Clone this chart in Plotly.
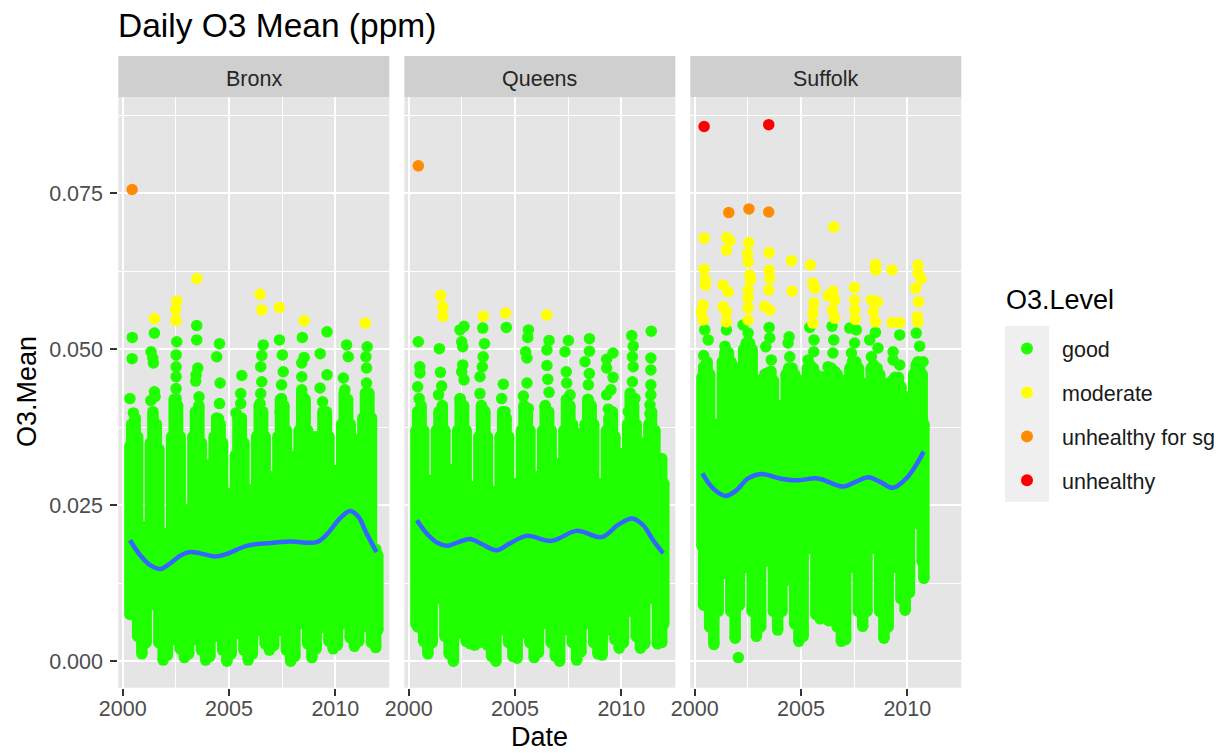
import plotly.graph_objects as go

W, H = 1229, 753
FONT = "Liberation Sans"
TICK = "#4D4D4D"
GREEN, YELLOW, ORANGE, RED, BLUE = "#20FF00", "#FFFF00", "#FF8C00", "#FF0000", "#3366FF"
panels = ["Bronx", "Queens", "Suffolk"]
levels = ["good", "moderate", "unhealthy for sg", "unhealthy"]
level_colors = [GREEN, YELLOW, ORANGE, RED]

# Sampled dates inside each year, and the last date of each monitor
year_offsets = [0.10, 0.30, 0.42, 0.58, 0.70, 0.90]
years = list(range(2000, 2012))
start_offset = 0.34
last_date = {"Bronx": 2012.00, "Queens": 2012.00, "Suffolk": 2010.78}

# Upper / lower edge of the dense cloud (one row per year)
bronx_hi = [None, .0345, .038, .039, .036, .0216,
            .0216, .035, .040, .038, .034, .0205,
            .0205, .036, .042, .041, .036, .0243,
            .0243, .036, .040, .041, .035, .0315,
            .0315, .036, .039, .038, .035, .0269,
            .0269, .033, .039, .039, .035, .0275,
            .0275, .036, .041, .040, .036, .0296,
            .0296, .036, .042, .041, .037, .0328,
            .0328, .037, .043, .042, .037, .036,
            .036, .036, .040, .040, .036, .0306,
            .0306, .038, .043, .042, .038, .0355,
            .0355, .039, .043, .043, .039, .018, .017]
bronx_lo = [None, .0075, .0075, .0080, .0040, .0012,
            .0030, .0090, .0095, .0090, .0030, .0002,
            .0010, .0040, .0035, .0035, .0020, .0006,
            .0012, .0040, .0035, .0035, .0018, .0002,
            .0008, .0040, .0040, .0040, .0018, .0000,
            .0012, .0045, .0045, .0045, .0018, .0002,
            .0012, .0050, .0050, .0050, .0028, .0018,
            .0025, .0050, .0050, .0048, .0018, .0000,
            .0008, .0060, .0065, .0065, .0028, .0006,
            .0020, .0055, .0055, .0055, .0032, .0020,
            .0026, .0060, .0065, .0065, .0038, .0024,
            .0032, .0055, .0060, .0055, .0030, .0022, .0050]
queens_hi = [None, .037, .040, .041, .037, .029,
             .029, .037, .040, .041, .037, .0307,
             .0307, .037, .042, .041, .037, .028,
             .028, .036, .041, .040, .036, .0272,
             .0272, .036, .040, .039, .036, .0285,
             .0285, .037, .041, .040, .037, .0296,
             .0296, .037, .041, .040, .037, .0317,
             .0317, .037, .042, .041, .038, .0365,
             .0365, .038, .042, .041, .038, .0285,
             .0285, .037, .039, .040, .036, .0333,
             .0333, .038, .043, .041, .038, .035,
             .035, .038, .040, .037, .029, .0325, .0285]
queens_lo = [None, .0060, .0055, .0055, .0032, .0012,
             .0030, .0100, .0115, .0110, .0040, .0012,
             .0000, .0045, .0055, .0055, .0032, .0028,
             .0026, .0030, .0035, .0035, .0026, .0008,
             .0000, .0050, .0065, .0065, .0030, .0008,
             .0005, .0045, .0055, .0055, .0030, .0006,
             .0014, .0060, .0075, .0075, .0030, .0008,
             .0000, .0050, .0065, .0065, .0030, .0002,
             .0015, .0060, .0075, .0075, .0030, .0012,
             .0010, .0050, .0065, .0065, .0035, .0021,
             .0030, .0080, .0097, .0097, .0040, .0021,
             .0028, .0100, .0135, .0120, .0028, .0030, .0060]
suffolk_hi = [None, .0455, .047, .048, .046, .038,
              .038, .048, .0495, .0495, .048, .047,
              .047, .050, .051, .051, .050, .045,
              .045, .046, .0462, .0465, .045, .041,
              .041, .046, .047, .047, .046, .045,
              .045, .047, .0475, .047, .046, .0456,
              .0456, .046, .047, .0465, .046, .045,
              .045, .047, .048, .048, .047, .0445,
              .0445, .047, .0475, .047, .046, .0445,
              .0445, .045, .0455, .0455, .044, .0424,
              .0424, .046, .0475, .0475, .046, .038]
suffolk_lo = [None, .0185, .0090, .0120, .0055, .0027,
              .0080, .0140, .0150, .0150, .0080, .0037,
              .0090, .0150, .0165, .0160, .0080, .0040,
              .0055, .0160, .0180, .0170, .0080, .0050,
              .0080, .0130, .0150, .0148, .0060, .0032,
              .0040, .0180, .0200, .0200, .0075, .0068,
              .0090, .0065, .0080, .0120, .0055, .0032,
              .0035, .0150, .0165, .0165, .0080, .0056,
              .0080, .0180, .0200, .0200, .0080, .0037,
              .0055, .0150, .0165, .0150, .0100, .0082,
              .0110, .0220, .0235, .0235, .0160, .0133]

# Separate readings above (or below) the dense cloud
bronx_good_x = [2000.45, 2000.44, 2000.34, 2000.50, 2001.49, 2001.33, 2001.41, 2001.44, 2001.49, 2001.52, 2001.32, 2001.44,
                2002.54, 2002.51, 2002.51, 2002.51, 2002.51, 2002.51, 2002.46, 2003.48, 2003.48, 2003.53, 2003.45, 2003.43,
                2003.59, 2003.56, 2004.55, 2004.42, 2004.58, 2004.55, 2004.50, 2005.60, 2005.55, 2005.55, 2005.33, 2006.61,
                2006.54, 2006.49, 2006.54, 2006.49, 2006.46, 2006.46, 2007.37, 2007.51, 2007.55, 2007.47, 2007.47, 2007.40,
                2008.45, 2008.53, 2008.42, 2008.42, 2008.42, 2008.50, 2009.61, 2009.29, 2009.61, 2009.28, 2009.40, 2009.47,
                2010.53, 2010.61, 2010.38, 2010.45, 2010.45, 2011.50, 2011.44, 2011.47, 2011.47, 2011.47, 2011.47]
bronx_good_y = [.0519, .0485, .0421, .0398, .0526, .0496, .0486, .0478, .0432, .0424, .0418, .0387,
                .0512, .0491, .0472, .0456, .0437, .0421, .0400, .0538, .0515, .0470, .0459, .0449,
                .0424, .0400, .0509, .0488, .0446, .0413, .0389, .0458, .0429, .0413, .0398, .0507,
                .0490, .0472, .0448, .0429, .0413, .0400, .0515, .0491, .0464, .0443, .0421, .0400,
                .0519, .0487, .0478, .0456, .0435, .0413, .0528, .0493, .0459, .0438, .0416, .0397,
                .0507, .0488, .0454, .0435, .0413, .0504, .0488, .0470, .0446, .0427, .0403]
bronx_mod_x = [2001.49, 2002.54, 2002.48, 2002.51, 2003.48, 2006.46, 2006.54, 2007.37, 2008.53, 2011.41]
bronx_mod_y = [.0549, .0577, .0563, .0546, .0613, .0588, .0563, .0567, .0546, .0542]
bronx_sg_x = [2000.44]
bronx_sg_y = [.0756]
queens_good_x = [2000.45, 2000.52, 2000.53, 2000.42, 2000.49, 2000.45, 2001.44, 2001.49, 2001.55, 2001.40, 2001.55,
                 2002.60, 2002.41, 2002.49, 2002.54, 2002.54, 2002.49, 2002.60, 2002.41, 2002.57,
                 2003.48, 2003.56, 2003.50, 2003.46, 2003.35, 2003.35, 2003.51, 2004.59, 2004.45, 2004.37, 2004.53,
                 2005.63, 2005.60, 2005.50, 2005.56, 2005.56, 2005.39, 2005.63, 2006.60, 2006.50, 2006.50, 2006.54, 2006.60, 2006.41,
                 2007.51, 2007.35, 2007.41, 2007.43, 2007.59, 2007.51, 2008.50, 2008.50, 2008.29, 2008.50, 2008.45, 2008.45, 2008.45,
                 2009.61, 2009.31, 2009.31, 2009.61, 2009.51, 2009.31, 2009.39, 2010.49, 2010.56, 2010.52, 2010.56, 2010.52, 2010.64, 2010.33,
                 2011.41, 2011.39, 2011.39, 2011.39, 2011.39, 2011.35, 2011.35]
queens_good_y = [.0512, .0472, .0462, .0440, .0421, .0400, .0501, .0463, .0441, .0427, .0405,
                 .0537, .0531, .0512, .0504, .0475, .0464, .0451, .0421, .0400,
                 .0534, .0509, .0488, .0472, .0456, .0429, .0403, .0535, .0444, .0421, .0400,
                 .0531, .0519, .0496, .0486, .0446, .0425, .0405, .0514, .0499, .0474, .0452, .0431, .0408,
                 .0514, .0496, .0464, .0446, .0427, .0405, .0517, .0497, .0480, .0461, .0443, .0419, .0400,
                 .0494, .0484, .0470, .0455, .0435, .0427, .0404, .0522, .0505, .0488, .0472, .0448, .0421, .0400,
                 .0529, .0486, .0467, .0443, .0427, .0411, .0397]
queens_mod_x = [2001.50, 2001.60, 2001.61, 2003.51, 2004.55, 2006.49]
queens_mod_y = [.0586, .0568, .0553, .0553, .0558, .0555]
queens_sg_x = [2000.45]
queens_sg_y = [.0794]
suffolk_good_x = [2000.47, 2000.63, 2000.42, 2000.42, 2001.49, 2001.42, 2002.05, 2002.27, 2002.51, 2003.50, 2003.53, 2003.34, 2003.60,
                  2004.44, 2004.39, 2004.47, 2005.41, 2005.61, 2005.60, 2005.33, 2006.46, 2006.54, 2006.50, 2006.27,
                  2007.29, 2007.60, 2007.52, 2007.37, 2008.50, 2008.23, 2008.62, 2008.31,
                  2009.64, 2009.33, 2009.64, 2009.33, 2010.42, 2010.58, 2010.50, 2010.74]
suffolk_good_y = [.0531, .0515, .0490, .0472, .0531, .0505, .0006, .0539, .0526, .0535, .0518, .0504, .0483,
                  .0520, .0510, .0488, .0535, .0515, .0496, .0483, .0537, .0515, .0494, .0472,
                  .0534, .0531, .0510, .0494, .0527, .0515, .0502, .0488,
                  .0523, .0496, .0475, .0483, .0526, .0505, .0480, .0480]
suffolk_mod_x = [2000.44, 2001.50, 2001.65, 2001.49, 2002.54, 2002.48, 2002.51, 2003.50, 2000.44, 2000.50, 2000.50, 2004.55, 2005.44, 2006.54,
                 2008.51, 2008.51, 2009.28, 2010.50, 2010.50, 2010.66, 2010.39, 2010.53, 2010.47, 2010.50,
                 2002.59, 2002.62, 2002.51, 2002.51, 2002.51, 2002.51, 2003.50, 2003.53, 2003.48, 2003.29, 2003.53,
                 2001.33, 2001.57, 2001.33, 2001.49, 2001.49, 2000.39, 2000.31, 2000.39, 2004.58,
                 2005.56, 2005.64, 2005.60, 2005.56, 2005.56, 2006.50, 2006.27, 2006.58, 2006.47, 2006.58,
                 2007.51, 2007.52, 2007.52, 2007.55, 2008.31, 2008.59, 2008.39, 2008.50, 2009.28, 2009.64]
suffolk_mod_y = [.0678, .0679, .0674, .0659, .0671, .0653, .0640, .0655, .0628, .0611, .0603, .0642, .0635, .0696,
                 .0636, .0627, .0627, .0635, .0622, .0613, .0598, .0576, .0552, .0544,
                 .0619, .0611, .0595, .0582, .0566, .0547, .0627, .0614, .0595, .0569, .0563,
                 .0603, .0592, .0568, .0560, .0544, .0571, .0560, .0547, .0593,
                 .0606, .0598, .0574, .0558, .0542, .0593, .0586, .0579, .0563, .0550,
                 .0599, .0579, .0563, .0548, .0579, .0576, .0560, .0544, .0543, .0543]
suffolk_sg_x = [2001.60, 2002.55, 2003.48]
suffolk_sg_y = [.0719, .0725, .0720]
suffolk_bad_x = [2000.44, 2003.48]
suffolk_bad_y = [.0857, .0860]

# Smoothed trend
bronx_trend_x = [2000.34, 2000.82, 2001.29, 2001.76, 2002.23, 2002.70, 2003.17, 2003.64, 2004.34, 2004.89, 2005.83,
                 2006.77, 2007.87, 2009.12, 2009.59, 2010.22, 2010.69, 2011.08, 2011.47, 2011.94]
bronx_trend_y = [.0194, .0170, .0154, .0148, .0157, .0169, .0175, .0173, .0168, .0172, .0185,
                 .0189, .0192, .0191, .0203, .0229, .0241, .0232, .0205, .0175]
queens_trend_x = [2000.38, 2000.92, 2001.39, 2001.79, 2002.34, 2002.88, 2003.43, 2004.14, 2004.76, 2005.55, 2006.72,
                  2007.90, 2009.08, 2009.86, 2010.52, 2011.03, 2011.50, 2011.97]
queens_trend_y = [.0226, .0202, .0189, .0185, .0191, .0196, .0188, .0178, .0189, .0201, .0193,
                  .0209, .0199, .0219, .0229, .0218, .0194, .0173]
suffolk_trend_x = [2000.36, 2000.86, 2001.46, 2001.96, 2002.51, 2003.13, 2004.00, 2004.78, 2005.80, 2006.97, 2007.60,
                   2008.18, 2008.70, 2009.33, 2009.95, 2010.42, 2010.77]
suffolk_trend_y = [.0301, .0277, .0265, .0274, .0293, .0300, .0293, .0290, .0293, .0280, .0288,
                   .0295, .0288, .0278, .0293, .0315, .0336]

x_ticks = [2000, 2005, 2010]
x_minor = [2002.5, 2007.5, 2012.5]
y_ticks = [0, .025, .05, .075]
y_tick_text = ["0.000", "0.025", "0.050", "0.075"]
y_minor = [.0125, .0375, .0625, .0875]

clouds = {"Bronx": (bronx_hi, bronx_lo), "Queens": (queens_hi, queens_lo), "Suffolk": (suffolk_hi, suffolk_lo)}
points = {
    "Bronx": [(bronx_good_x, bronx_good_y), (bronx_mod_x, bronx_mod_y), (bronx_sg_x, bronx_sg_y), None],
    "Queens": [(queens_good_x, queens_good_y), (queens_mod_x, queens_mod_y), (queens_sg_x, queens_sg_y), None],
    "Suffolk": [(suffolk_good_x, suffolk_good_y), (suffolk_mod_x, suffolk_mod_y), (suffolk_sg_x, suffolk_sg_y), (suffolk_bad_x, suffolk_bad_y)],
}
trends = {"Bronx": (bronx_trend_x, bronx_trend_y), "Queens": (queens_trend_x, queens_trend_y), "Suffolk": (suffolk_trend_x, suffolk_trend_y)}

def px(x): return x / W
def py(y): return 1 - y / H

edges = [(118.3, 389.3), (404.3, 675.3), (690.3, 961.3)]
top, bottom, strip_top = 97.3, 687.7, 56.0
MS = 11.5

fig = go.Figure()
seen = set()
for i, name in enumerate(panels):
    ax = "" if i == 0 else str(i + 1)
    hi, lo = clouds[name]
    dates = [y + off for y in years for off in year_offsets][:len(hi) - 1] + [last_date[name]]
    dates[1] = 2000 + start_offset
    xs, ys = [], []
    for d, h, l in zip(dates, hi, lo):
        if h is None:
            continue
        xs += [d, d, None]
        ys += [l, h, None]
    fig.add_trace(go.Scatter(x=xs, y=ys, mode="lines+markers", xaxis="x" + ax, yaxis="y" + ax,
                             line=dict(color=GREEN, width=MS), marker=dict(color=GREEN, size=MS),
                             showlegend=False, hoverinfo="skip"))
    for j, lev in enumerate(levels):
        if points[name][j] is None:
            continue
        px_, py_ = points[name][j]
        fig.add_trace(go.Scatter(x=px_, y=py_, mode="markers", name=lev, legendgroup=lev, legendrank=j + 1,
                                 showlegend=lev not in seen, xaxis="x" + ax, yaxis="y" + ax,
                                 marker=dict(color=level_colors[j], size=MS)))
        seen.add(lev)
    tx, ty = trends[name]
    fig.add_trace(go.Scatter(x=tx, y=ty, mode="lines", xaxis="x" + ax, yaxis="y" + ax, showlegend=False,
                             line=dict(color=BLUE, width=4.5, shape="spline", smoothing=1.0)))

shapes = []
annotations = []
axes = {}
for i, name in enumerate(panels):
    ax = "" if i == 0 else str(i + 1)
    l, r = edges[i]
    axes["xaxis" + ax] = dict(
        domain=[px(l), px(r)], range=[1999.79, 2012.54], anchor="y" + ax, tickmode="array", automargin=False,
        tickvals=x_ticks, ticktext=[str(t) for t in x_ticks], ticks="outside", ticklen=7, tickwidth=2,
        ticklabelstandoff=-6,
        tickcolor="#333333", showgrid=True, gridcolor="white", gridwidth=1.6, zeroline=False,
        tickfont=dict(family=FONT, size=21.5, color=TICK),
        minor=dict(tickvals=x_minor, showgrid=True, gridcolor="white", gridwidth=0.8, ticks=""),
    )
    axes["yaxis" + ax] = dict(
        domain=[py(bottom), py(top)], range=[-0.00423, 0.09038], anchor="x" + ax, tickmode="array", automargin=False,
        tickvals=y_ticks, ticktext=y_tick_text, ticks="outside" if i == 0 else "", ticklen=7, tickwidth=2,
        ticklabelstandoff=3,
        tickcolor="#333333", showticklabels=i == 0, showgrid=True, gridcolor="white", gridwidth=1.6,
        zeroline=False, tickfont=dict(family=FONT, size=21.5, color=TICK),
        minor=dict(tickvals=y_minor, showgrid=True, gridcolor="white", gridwidth=0.8, ticks=""),
    )
    shapes.append(dict(type="rect", xref="paper", yref="paper", x0=px(l), x1=px(r), y0=py(top), y1=py(strip_top),
                       fillcolor="#CFCFCF", line_width=0, layer="below"))
    annotations.append(dict(text=name, xref="paper", yref="paper", x=px((l + r) / 2), y=py(78.5),
                            showarrow=False, xanchor="center", yanchor="middle",
                            font=dict(family=FONT, size=21.5, color="#262626")))
shapes.append(dict(type="rect", xref="paper", yref="paper", x0=px(1005), x1=px(1049), y0=py(502), y1=py(326),
                   fillcolor="#EFEFEF", line_width=0, layer="below"))
annotations += [
    dict(text="Date", xref="paper", yref="paper", x=px(539.5), y=py(737), showarrow=False, xanchor="center", yanchor="middle",
         font=dict(family=FONT, size=27, color="black")),
    dict(text="O3.Mean", xref="paper", yref="paper", x=px(27), y=py(392), showarrow=False, textangle=-90, xanchor="center", yanchor="middle",
         font=dict(family=FONT, size=27, color="black")),
    dict(text="O3.Level", xref="paper", yref="paper", x=px(1004), y=py(300), showarrow=False, xanchor="left", yanchor="middle",
         font=dict(family=FONT, size=27, color="black")),
    dict(text="Daily O3 Mean (ppm)", xref="paper", yref="paper", x=px(116), y=py(26), showarrow=False, xanchor="left", yanchor="middle",
         font=dict(family=FONT, size=33.5, color="black")),
]

fig.update_layout(
    width=W, height=H, margin=dict(l=0, r=0, t=0, b=0), paper_bgcolor="white", plot_bgcolor="#E5E5E5",
    legend=dict(x=px(992), y=py(328), xanchor="left", yanchor="top", tracegroupgap=13, itemsizing="constant", itemwidth=60,
                bgcolor="rgba(0,0,0,0)", font=dict(family=FONT, size=21.5, color="#1A1A1A")),
    shapes=shapes, annotations=annotations, **axes,
)
fig.write_html("out.html", config={"displayModeBar": False},
               post_script="document.body.style.margin='0';document.documentElement.style.overflow='hidden';")
